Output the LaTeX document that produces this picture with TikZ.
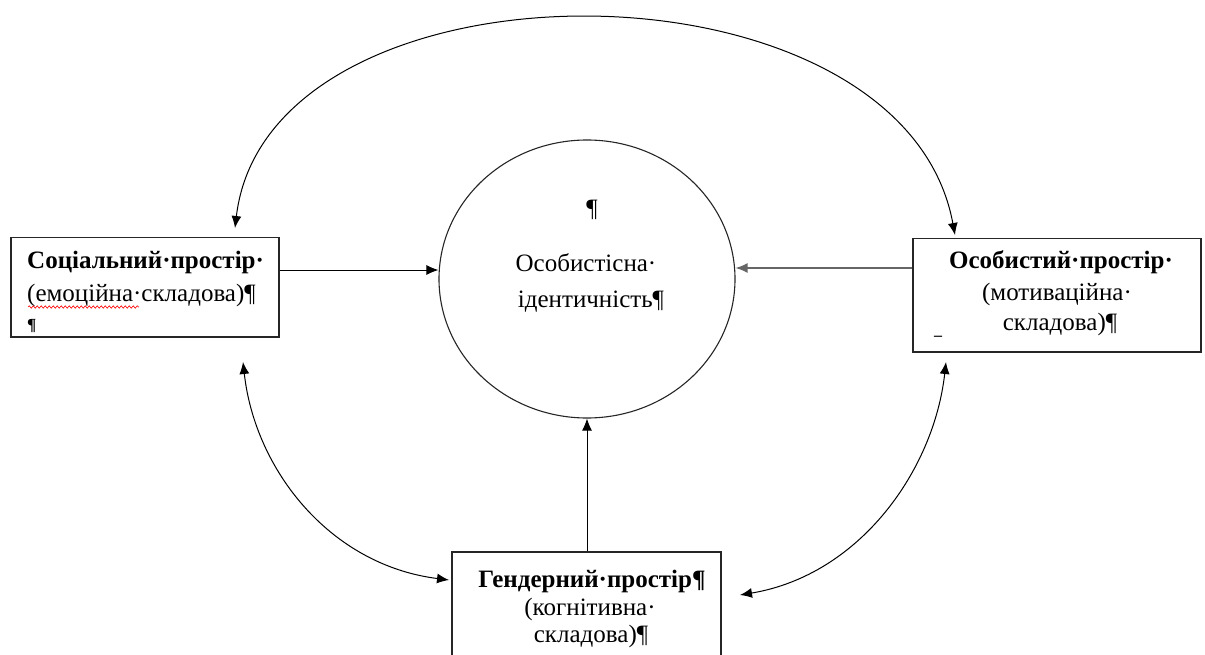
\documentclass[tikz,border=0pt]{standalone}
\usepackage{fontspec}
\setmainfont{Liberation Serif}
\usetikzlibrary{arrows.meta,shapes.geometric,decorations.pathmorphing}
\begin{document}
\begin{tikzpicture}[x=1pt,y=-1pt,
  box/.style={draw=black!85,line width=1.5pt,rectangle,inner sep=0pt,anchor=north west},
  txt/.style={inner sep=0pt,anchor=base,font=\fontsize{25}{30}\selectfont},
  btxt/.style={inner sep=0pt,anchor=base,font=\fontsize{25}{30}\selectfont\bfseries},
  arr/.style={line width=1pt,-{Latex[length=12pt,width=10pt]}},
  darr/.style={line width=1pt,{Latex[length=12pt,width=10pt]}-{Latex[length=12pt,width=10pt]}}]
\useasboundingbox (0,0) rectangle (1205,655);
\clip (0,0) rectangle (1205,655);
\fill[white] (0,0) rectangle (1205,655);
% boxes
\node[box,minimum width=268pt,minimum height=99pt] (soc) at (10,237) {};
\node[box,minimum width=288pt,minimum height=113pt] (os) at (912,238) {};
\node[box,minimum width=269pt,minimum height=130pt] (gen) at (451,551) {};
\node[draw=black!85,line width=1.1pt,ellipse,minimum width=296pt,minimum height=278pt,inner sep=0pt] (id) at (587,279) {};
% texts
\node[btxt,anchor=base west] (s1) at (27,269) {Соціальний·простір·};
\node[txt,anchor=base west] (s2) at (27,301) {(емоційна·складова)¶};
\node[inner sep=0pt,anchor=base west,font=\fontsize{17}{18}\selectfont\bfseries] (s3) at (27,330) {¶};
\draw[red,line width=0.6pt,decorate,decoration={snake,amplitude=1.2pt,segment length=4pt}] (28,307) -- (139,307);
\node[btxt] (o1) at (1061,269) {Особистий·простір·};
\node[txt] (o2) at (1057,300) {(мотиваційна·};
\node[txt] (o3) at (1060,330) {складова)¶};
\node[inner sep=0pt,anchor=base west,font=\fontsize{16}{16}\selectfont\bfseries] (o4) at (934,340) {–};
\node[btxt] (g1) at (592,587) {Гендерний·простір¶};
\node[txt] (g2) at (590,615) {(когнітивна·};
\node[txt] (g3) at (591,642) {складова)¶};
\node[txt] (i0) at (592,217) {¶};
\node[txt] (i1) at (586,272) {Особистісна·};
\node[txt] (i2) at (591,307) {ідентичність¶};
% straight connectors
\draw[arr] (soc.east |- 0,270) -- (id.west |- 0,270);
\draw[arr,draw=black!60,line width=1.5pt] (os.west |- 0,268) -- (id.east |- 0,268);
\draw[arr] (gen.north -| id.south) -- (id.south);
% curved connectors
\coordinate (tl) at (235,228);
\coordinate (tr) at (955,235);
\coordinate (ll1) at (243,362);
\coordinate (ll2) at (449,580);
\coordinate (rl1) at (946,362);
\coordinate (rl2) at (740,595);
\draw[darr] (tl) .. controls (268,-52) and (902,-52) .. (tr);
\draw[darr] (ll1) .. controls (255,470) and (330,565) .. (ll2);
\draw[darr] (rl1) .. controls (934,470) and (860,575) .. (rl2);
\end{tikzpicture}
\end{document}
